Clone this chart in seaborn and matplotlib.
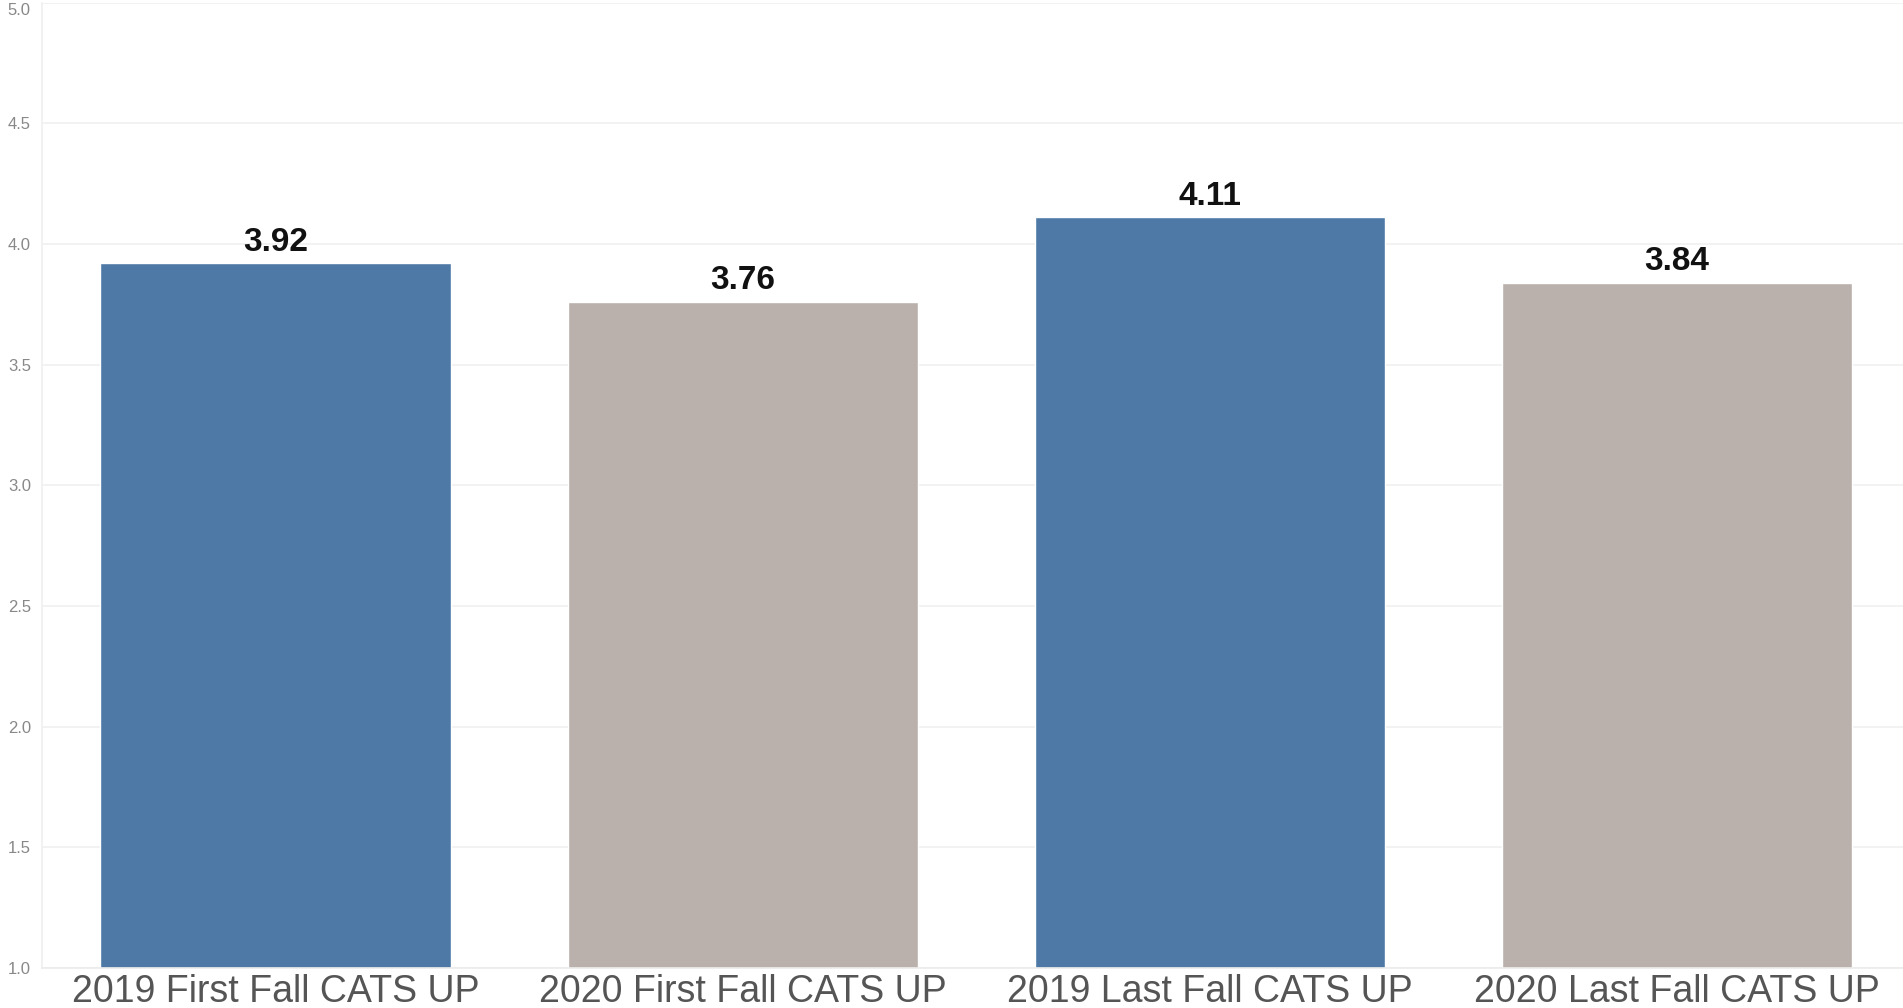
import matplotlib
matplotlib.use("Agg")
import matplotlib.pyplot as plt
import seaborn as sns
import pandas as pd

categories = ["2019 First Fall CATS UP", "2020 First Fall CATS UP",
              "2019 Last Fall CATS UP", "2020 Last Fall CATS UP"]
scores = [3.92, 3.76, 4.11, 3.84]
bar_colors = ["#4e79a7", "#bab0ac", "#4e79a7", "#bab0ac"]
y_ticks = [1.0, 1.5, 2.0, 2.5, 3.0, 3.5, 4.0, 4.5, 5.0]

df = pd.DataFrame({"category": categories, "score": scores})

sns.set_theme(style="white")
plt.rcParams["font.family"] = ["Liberation Sans", "DejaVu Sans"]

fig = plt.figure(figsize=(19.03, 10.08), dpi=100)
ax = fig.add_axes([42 / 1903, 40 / 1008, 1 - 42 / 1903 + 0.004, (968 - 2.6) / 1008])

sns.barplot(data=df, x="category", y="score", hue="category",
            palette=bar_colors, width=0.75, legend=False, ax=ax,
            saturation=1, zorder=2)

ax.set_ylim(1.0, 5.0)
ax.set_xlim(-0.5, 3.5)
ax.set_yticks(y_ticks)
ax.set_yticklabels([f"{t:.1f}" for t in y_ticks])
ax.grid(axis="y", color="#f0f0f0", linewidth=1.2, zorder=0)
ax.set_axisbelow(True)
ax.set_xlabel("")
ax.set_ylabel("")

for side in ["top", "right"]:
    ax.spines[side].set_visible(False)
ax.spines["left"].set_color("#f0f0f0")
ax.spines["bottom"].set_color("#ececec")

ax.tick_params(axis="y", labelsize=12, colors="#888888", length=0, pad=8)
ax.tick_params(axis="x", labelsize=27, labelcolor="#555555", length=0, pad=4)

# keep the top tick label inside the canvas
ax.get_yticklabels()[-1].set_va("top")

for i, v in enumerate(scores):
    ax.annotate(f"{v:.2f}", (i, v), xytext=(0, 4), textcoords="offset points",
                ha="center", va="bottom", fontsize=24, fontweight="bold",
                color="#111111")

fig.savefig("out.png", dpi=100)
